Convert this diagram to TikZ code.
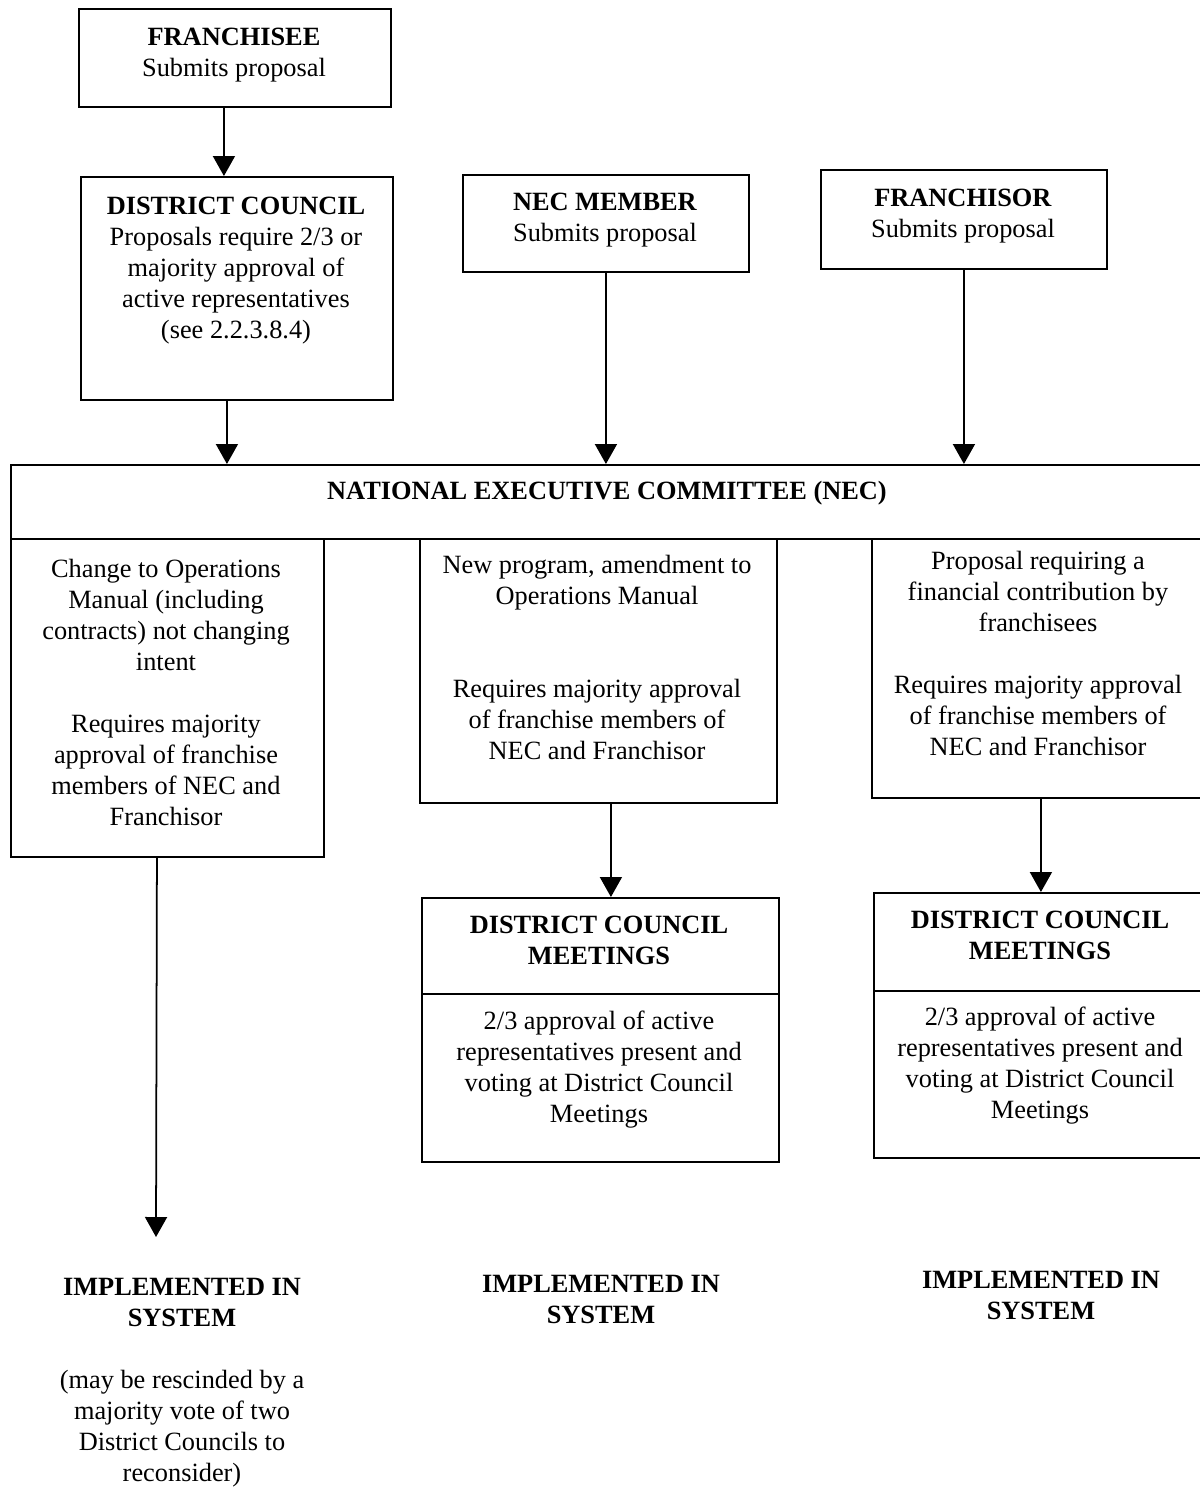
\documentclass[tikz,border=0pt]{standalone}
\usepackage{fontspec}
\setmainfont{Liberation Serif}
\usetikzlibrary{arrows.meta}

\begin{document}
\begin{tikzpicture}[x=0.02cm, y=-0.02cm,
        box/.style={draw, line width=1.1pt, inner sep=0pt, anchor=north west},
        txt/.style={anchor=north, inner sep=0pt, align=center, font=\fontsize{15}{17.6}\selectfont},
        arr/.style={line width=1pt, -{Triangle[width=0.44cm, length=0.4cm]}}]
        \useasboundingbox (0,0) rectangle (1200,1489);
        \clip (0,0) rectangle (1200,1489);

        % top row
        \node[box, minimum width=6.24cm, minimum height=1.96cm] (fee) at (78,8) {};
        \node[txt] (feet) at (234,28) {\textbf{FRANCHISEE}\\Submits proposal};
        \node[box, minimum width=6.24cm, minimum height=4.46cm] (dc) at (80,176) {};
        \node[txt] (dct) at (236,197) {\textbf{DISTRICT COUNCIL}\\Proposals require 2/3 or\\majority approval of\\active representatives\\(see 2.2.3.8.4)};
        \node[box, minimum width=5.72cm, minimum height=1.94cm] (nm) at (462,174) {};
        \node[txt] (nmt) at (605,193) {\textbf{NEC MEMBER}\\Submits proposal};
        \node[box, minimum width=5.72cm, minimum height=1.98cm] (for) at (820,169) {};
        \node[txt] (fort) at (963,189) {\textbf{FRANCHISOR}\\Submits proposal};

        % NEC and its three columns
        \node[box, minimum width=24.1cm, minimum height=1.48cm] (nec) at (10,464) {};
        \node[txt, anchor=center] (nect) at (607,493) {\textbf{NATIONAL EXECUTIVE COMMITTEE (NEC)}};
        \node[box, minimum width=6.26cm, minimum height=6.36cm] (c1) at (10,538) {};
        \node[txt] (c1t) at (166,559) {Change to Operations\\Manual (including\\contracts) not changing\\intent\\[17.6pt]Requires majority\\approval of franchise\\members of NEC and\\Franchisor};
        \node[box, minimum width=7.14cm, minimum height=5.28cm] (c2) at (419,538) {};
        \node[txt] (c2t) at (597,555) {New program, amendment to\\Operations Manual\\[35.2pt]Requires majority approval\\of franchise members of\\NEC and Franchisor};
        \node[box, minimum width=6.9cm, minimum height=5.18cm] (c3) at (871,538) {};
        \node[txt] (c3t) at (1038,551) {Proposal requiring a\\financial contribution by\\franchisees\\[17.6pt]Requires majority approval\\of franchise members of\\NEC and Franchisor};

        % district council meetings
        \node[box, minimum width=7.14cm, minimum height=1.92cm] (m2a) at (421,897) {};
        \node[box, minimum width=7.14cm, minimum height=3.36cm] (m2b) at (421,993) {};
        \node[txt] (m2at) at (599,916) {\textbf{DISTRICT COUNCIL}\\\textbf{MEETINGS}};
        \node[txt] (m2bt) at (599,1011) {2/3 approval of active\\representatives present and\\voting at District Council\\Meetings};
        \node[box, minimum width=6.9cm, minimum height=1.96cm] (m3a) at (873,892) {};
        \node[box, minimum width=6.9cm, minimum height=3.34cm] (m3b) at (873,990) {};
        \node[txt] (m3at) at (1040,911) {\textbf{DISTRICT COUNCIL}\\\textbf{MEETINGS}};
        \node[txt] (m3bt) at (1040,1007) {2/3 approval of active\\representatives present and\\voting at District Council\\Meetings};

        % results
        \node[txt] (imp1) at (182,1278) {\textbf{IMPLEMENTED IN}\\\textbf{SYSTEM}\\[17.6pt](may be rescinded by a\\majority vote of two\\District Councils to\\reconsider)};
        \node[txt] (imp2) at (601,1275) {\textbf{IMPLEMENTED IN}\\\textbf{SYSTEM}};
        \node[txt] (imp3) at (1041,1271) {\textbf{IMPLEMENTED IN}\\\textbf{SYSTEM}};
        \coordinate (e1) at (156,1237);

        \draw[arr] ([xshift=-0.22cm]fee.south) -- ([xshift=-0.22cm]fee.south |- dc.north);
        \draw[arr] ([xshift=-0.2cm]dc.south) -- ([xshift=-0.2cm]dc.south |- nec.north);
        \draw[arr] (nm.south) -- (nm.south |- nec.north);
        \draw[arr] (for.south) -- (for.south |- nec.north);
        \draw[arr] ([xshift=0.25cm]c2.south) -- ([xshift=0.25cm]c2.south |- m2a.north);
        \draw[arr] ([xshift=-0.07cm]c3.south) -- ([xshift=-0.07cm]c3.south |- m3a.north);
        \draw[arr] ([xshift=-0.21cm]c1.south) -- (e1);
    \end{tikzpicture}
\end{document}
